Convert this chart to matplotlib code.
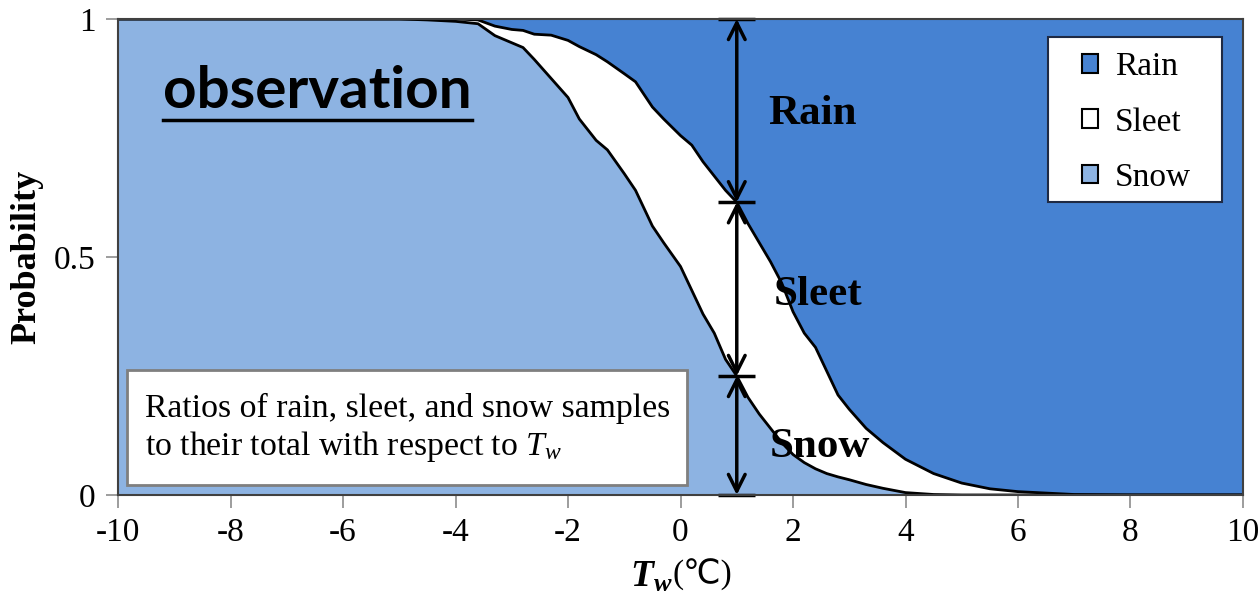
import numpy as np
import matplotlib
matplotlib.use("Agg")
import matplotlib.pyplot as plt
from matplotlib.patches import Rectangle, Patch
from matplotlib.lines import Line2D

# Wet-bulb temperature grid (degC) and observed precipitation-type ratios
tw = [-10.0, -5.0, -4.5, -4.0, -3.6, -3.3, -3.0, -2.8, -2.6, -2.3, -2.0, -1.8,
      -1.5, -1.3, -1.0, -0.8, -0.5, -0.3, 0.0, 0.2, 0.4, 0.6, 0.8, 1.0, 1.2,
      1.4, 1.6, 1.8, 2.0, 2.2, 2.4, 2.6, 2.8, 3.0, 3.3, 3.6, 4.0, 4.5, 5.0,
      5.5, 6.0, 6.5, 7.0, 8.0, 10.0]
snow_ratio = [1.0, 1.0, 0.998, 0.995, 0.99, 0.965, 0.95, 0.94, 0.915, 0.875,
              0.835, 0.79, 0.745, 0.725, 0.675, 0.64, 0.565, 0.53, 0.48, 0.43,
              0.38, 0.34, 0.285, 0.25, 0.205, 0.17, 0.14, 0.11, 0.085, 0.068,
              0.055, 0.045, 0.038, 0.032, 0.022, 0.014, 0.005, 0.001, 0.0,
              0.0, 0.0, 0.0, 0.0, 0.0, 0.0]
rain_ratio = [0.0, 0.0, 0.0, 0.0, 0.002, 0.015, 0.022, 0.024, 0.032, 0.034,
              0.045, 0.058, 0.075, 0.09, 0.115, 0.132, 0.185, 0.21, 0.245,
              0.265, 0.30, 0.33, 0.36, 0.385, 0.43, 0.47, 0.51, 0.555, 0.615,
              0.66, 0.69, 0.74, 0.79, 0.82, 0.86, 0.89, 0.925, 0.955, 0.975,
              0.987, 0.993, 0.996, 0.999, 1.0, 1.0]

# Ratios read at Tw = 1 degC for the bracket arrows
arrow_tw = 1.0
arrow_levels = [0.0, 0.25, 0.615, 1.0]

xticks = [-10, -8, -6, -4, -2, 0, 2, 4, 6, 8, 10]
yticks = [0, 0.5, 1]
ytick_labels = ["0", "0.5", "1"]

SNOW_C = "#8DB3E2"
SLEET_C = "#FFFFFF"
RAIN_C = "#4682D2"
SERIF = ["Liberation Serif", "DejaVu Serif"]

plt.rcParams["font.family"] = SERIF
plt.rcParams["mathtext.fontset"] = "custom"
plt.rcParams["mathtext.rm"] = "Liberation Serif"
plt.rcParams["mathtext.it"] = "Liberation Serif:italic"
plt.rcParams["mathtext.bf"] = "Liberation Serif:bold"
plt.rcParams["mathtext.bfit"] = "Liberation Serif:italic:bold"

tw = np.array(tw)
snow = np.array(snow_ratio)
rain = np.array(rain_ratio)
snow_sleet = 1.0 - rain

fig = plt.figure(figsize=(12.6, 5.93), dpi=100)
ax = fig.add_axes([0.0937, 0.1653, 0.8928, 0.8027])

ax.fill_between(tw, 0, snow, color=SNOW_C, lw=0)
ax.fill_between(tw, snow, snow_sleet, color=SLEET_C, lw=0)
ax.fill_between(tw, snow_sleet, 1, color=RAIN_C, lw=0)
ax.plot(tw, snow, color="black", lw=2)
ax.plot(tw, snow_sleet, color="black", lw=2)

# brackets with double-headed arrows at Tw = 1
for lo, hi in zip(arrow_levels[:-1], arrow_levels[1:]):
    ax.annotate("", xy=(arrow_tw, lo), xytext=(arrow_tw, hi),
                arrowprops=dict(arrowstyle="<->", lw=2.5, color="black",
                                mutation_scale=30, shrinkA=0, shrinkB=0))
ax.hlines(arrow_levels, arrow_tw - 0.33, arrow_tw + 0.33, color="black",
          lw=2.5, clip_on=False)

lab = dict(fontsize=31, fontweight="bold", ha="center", va="center")
ax.text(2.34, 0.80, "Rain", **lab)
ax.text(2.44, 0.42, "Sleet", **lab)
ax.text(2.48, 0.10, "Snow", **lab)

obs = ax.text(-9.2, 0.813, "observation", fontsize=42, fontweight="bold",
              family=["Lato", "DejaVu Sans"], ha="left", va="baseline")

# info box in the lower left
ax.add_patch(Rectangle((0.008, 0.021), 0.498, 0.242, transform=ax.transAxes,
                       facecolor="white", edgecolor="#7F7F7F", lw=2, zorder=4))
ax.text(0.024, 0.139, "Ratios of rain, sleet, and snow samples\n"
        r"to their total with respect to $T_w$",
        transform=ax.transAxes, fontsize=24.3, ha="left", va="center",
        linespacing=1.2, zorder=5)

# legend: frame drawn separately so the padding can be wide
ax.add_patch(Rectangle((0.827, 0.616), 0.154, 0.346, transform=ax.transAxes,
                       facecolor="white", edgecolor="#1F2A44", lw=1.5,
                       zorder=4))
handles = [Patch(facecolor=RAIN_C, edgecolor="black", lw=1.5),
           Patch(facecolor=SLEET_C, edgecolor="black", lw=1.5),
           Patch(facecolor=SNOW_C, edgecolor="black", lw=1.5)]
leg = ax.legend(handles, ["Rain", "Sleet", "Snow"], loc="center left",
                bbox_to_anchor=(0.857, 0.783), borderaxespad=0, borderpad=0,
                fontsize=24, handlelength=0.48, handleheight=0.48,
                handletextpad=0.5, labelspacing=0.74, frameon=False)
leg.set_zorder(5)

ax.set_xlim(-10, 10)
ax.set_ylim(0, 1)
ax.set_xticks(xticks)
ax.set_xticklabels([str(t) for t in xticks])
ax.set_yticks(yticks)
ax.set_yticklabels(ytick_labels)
ax.tick_params(axis="both", labelsize=24, direction="out", length=9,
               width=1.2, color="#8C8C8C", pad=7)
for s in ax.spines.values():
    s.set_color("#404040")
    s.set_linewidth(1.5)

ax.set_ylabel("Probability", fontsize=26, fontweight="bold", labelpad=8)
ax.set_xlabel(r"$\mathbfit{T}_\mathbfit{w}$", fontsize=27, labelpad=9)
ax.xaxis.label.set_x(0.474)
ax.annotate("(℃)", xy=(1, 0), xycoords=ax.xaxis.label, xytext=(0, 3),
            textcoords="offset points", ha="left", va="bottom", fontsize=24,
            family=["Liberation Serif", "DejaVu Sans"], annotation_clip=False)

# underline the "observation" caption
fig.canvas.draw()
bb = obs.get_window_extent()
inv = fig.transFigure.inverted()
(x0, y0), (x1, _) = inv.transform([[bb.x0, bb.y0 - 2], [bb.x1, bb.y0]])
fig.add_artist(Line2D([x0, x1], [y0, y0], color="black", lw=2.5,
                      transform=fig.transFigure))

fig.savefig("out.png", dpi=100)
